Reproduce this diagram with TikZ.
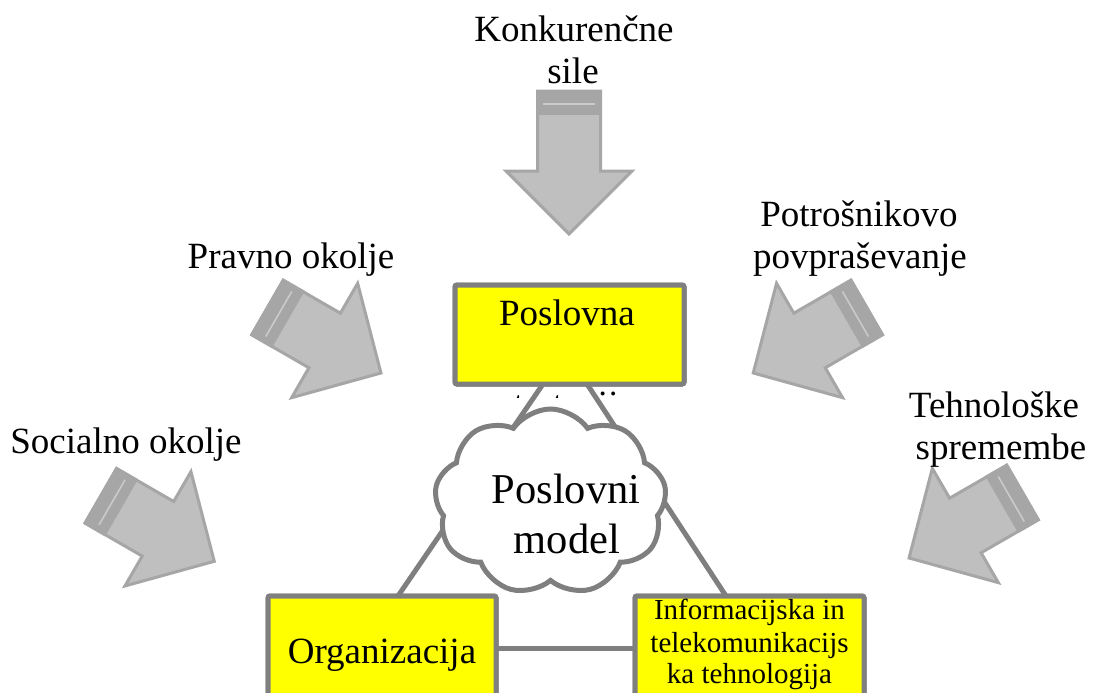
\documentclass[tikz,border=0pt]{standalone}
\usepackage{fontspec}
\setmainfont{Liberation Serif}
\usetikzlibrary{shapes.symbols}
\definecolor{edgegray}{HTML}{7F7F7F}
\definecolor{arrfill}{HTML}{BFBFBF}
\definecolor{arredge}{HTML}{A6A6A6}
\definecolor{arrline}{HTML}{CACACA}
\definecolor{boxyellow}{HTML}{FFFF00}
% #1,#2 tail middle, #3 angle, #4 shaft length, #5 head length, #6 head half width
\newcommand\forcearrow[6]{%
  \begin{scope}[shift={(#1,#2)}, rotate=#3]
    \filldraw[fill=arrfill, draw=arredge, line width=3pt, line join=miter]
      (0,-31.5) -- (#4,-31.5) -- (#4,-#6) -- ({#4+#5},0) -- (#4,#6) -- (#4,31.5) -- (0,31.5) -- cycle;
    \fill[arredge] (-1.5,-33) rectangle (24,33);
    \draw[arrline, line width=1.6pt] (13,-26) -- (13,26);
  \end{scope}}
\begin{document}
\begin{tikzpicture}[x=1pt,y=-1pt,
  lbl/.style={font=\fontsize{37}{42}\selectfont, inner sep=0pt},
  small/.style={font=\fontsize{29}{32}\selectfont, inner sep=0pt},
  cloudtxt/.style={font=\fontsize{42.5}{50}\selectfont, inner sep=0pt},
  ybox/.style={draw=edgegray, fill=boxyellow, line width=5pt, rounded corners=2pt,
    outer sep=0pt, inner sep=0pt, rectangle},
  conn/.style={draw=edgegray, line width=5pt}]
\useasboundingbox (0,0) rectangle (1095,693);
\clip (0,0) rectangle (1095,693);

% force arrows
\forcearrow{569}{91}{-90}{80}{63}{63}
\forcearrow{267.5}{307.5}{-30}{66}{65}{66}
\forcearrow{866.7}{307.5}{-150}{66}{65}{66}
\forcearrow{100.8}{495.8}{-30}{66}{65}{66}
\forcearrow{1022.5}{492.5}{-150}{66}{65}{66}

% clipped second line of the top box
\begin{scope}
  \clip (480,386) rectangle (660,397);
  \node[lbl, anchor=base] (strat) at (567,416) {strategija};
\end{scope}

% boxes (shapes)
\node[ybox, minimum width=229pt, minimum height=99pt] (pos) at (569.5,334.5) {};
\node[ybox, minimum width=228pt, minimum height=124pt] (org) at (382,658) {};
\node[ybox, minimum width=229pt, minimum height=124pt] (info) at (749.5,658) {};

% connectors
\draw[conn] ([xshift=88pt]pos.south west) -- ([xshift=130pt]org.north west);
\draw[conn] ([xshift=132pt]pos.south west) -- ([xshift=91pt]info.north west);
\draw[conn] ([yshift=-52pt]org.north east) -- ([yshift=-52pt]info.north west);

% redraw boxes on top of connectors
\node[ybox, minimum width=229pt, minimum height=99pt] at (pos) {};
\node[ybox, minimum width=228pt, minimum height=124pt] at (org) {};
\node[ybox, minimum width=229pt, minimum height=124pt] at (info) {};

% cloud
\node[cloud, cloud puffs=9, cloud puff arc=110, aspect=1.3, draw=edgegray, fill=white, line width=5pt,
  minimum width=232pt, minimum height=186pt, inner sep=0pt, shape border rotate=8] (cloud) at (550.5,502) {};
\node[cloudtxt, anchor=base] (cl1) at (566,503) {Poslovni};
\node[cloudtxt, anchor=base] (cl2) at (567,553) {model};

% box texts
\node[lbl, anchor=base] (postxt) at (567,325) {Poslovna};
\node[lbl, anchor=base] (orgtxt) at (382,663) {Organizacija};
\node[small, anchor=base] (inf1) at (749.5,619) {Informacijska in};
\node[small, anchor=base] (inf2) at (749.5,652) {telekomunikacijs};
\node[small, anchor=base] (inf3) at (749.5,683) {ka tehnologija};

% outer labels
\node[lbl, anchor=base] (k1) at (574,42) {Konkurenčne};
\node[lbl, anchor=base] (k2) at (573,84) {sile};
\node[lbl, anchor=base] (pr) at (291,268) {Pravno okolje};
\node[lbl, anchor=base] (po1) at (859,226) {Potrošnikovo};
\node[lbl, anchor=base] (po2) at (860,268) {povpraševanje};
\node[lbl, anchor=base] (te1) at (994,417) {Tehnološke};
\node[lbl, anchor=base] (te2) at (1001,459) {spremembe};
\node[lbl, anchor=base] (so) at (126,453) {Socialno okolje};
\end{tikzpicture}
\end{document}
